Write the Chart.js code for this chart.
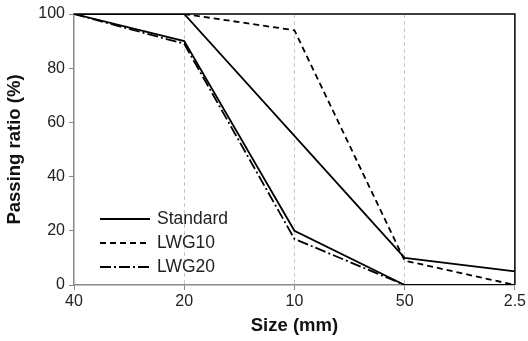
<!DOCTYPE html>
<html lang="en">
<head>
    <meta charset="UTF-8">
    <title>Passing ratio</title>
    <script src="https://cdn.jsdelivr.net/npm/chart.js"></script>
    <style>
        html, body { margin: 0; padding: 0; background: #fff; }
        #wrap { width: 528px; height: 341px; }
    </style>
</head>
<body>
    <div id="wrap"><canvas id="gradeChart" width="528" height="341"></canvas></div>

    <script>
        // Data
        const sizes = ['40', '20', '10', '50', '2.5'];
        const standardUpper = [100, 100, 55, 10, 5];
        const standardLower = [100, 90, 20, 0, 0];
        const lwg10 = [100, 100, 94, 9, 0];
        const lwg20 = [100, 89, 17, 0, 0];
        const yTicks = [0, 20, 40, 60, 80, 100];

        const font = "'Liberation Sans', Arial, sans-serif";

        // Frame on top and right, legend inside the plot
        const framePlugin = {
            id: 'frame',
            afterDraw(chart) {
                const { ctx, chartArea: a } = chart;
                ctx.save();
                ctx.strokeStyle = '#000';
                ctx.lineWidth = 1.5;
                ctx.beginPath();
                ctx.moveTo(a.left, a.top);
                ctx.lineTo(a.right, a.top);
                ctx.lineTo(a.right, a.bottom);
                ctx.stroke();

                // legend
                const items = chart.data.datasets.filter(d => !d.noLegend);
                ctx.font = '17.5px ' + font;
                ctx.textBaseline = 'middle';
                items.forEach((d, i) => {
                    const y = a.top + 205 + i * 24;
                    const x = a.left + 26;
                    ctx.strokeStyle = d.borderColor;
                    ctx.lineWidth = d.borderWidth;
                    ctx.setLineDash(d.borderDash || []);
                    ctx.beginPath();
                    ctx.moveTo(x, y);
                    ctx.lineTo(x + 50, y);
                    ctx.stroke();
                    ctx.setLineDash([]);
                    ctx.fillStyle = '#222';
                    ctx.fillText(d.label, x + 57, y);
                });
                ctx.restore();
            }
        };

        function line(label, data, dash, noLegend) {
            return {
                label: label,
                data: data,
                borderColor: '#000',
                borderWidth: 1.8,
                borderDash: dash,
                pointRadius: 0,
                fill: false,
                tension: 0,
                noLegend: noLegend
            };
        }

        new Chart(document.getElementById('gradeChart'), {
            type: 'line',
            data: {
                labels: sizes,
                datasets: [
                    line('Standard', standardUpper, [], false),
                    line('Standard', standardLower, [], true),
                    line('LWG10', lwg10, [6, 4], false),
                    line('LWG20', lwg20, [11, 3, 2, 3], false)
                ]
            },
            options: {
                responsive: false,
                animation: false,
                layout: { padding: { top: 14, right: 13, left: 0, bottom: 0 } },
                plugins: {
                    legend: { display: false },
                    tooltip: { enabled: false }
                },
                scales: {
                    x: {
                        type: 'category',
                        offset: false,
                        afterFit: s => { s.height = 56; },
                        grid: {
                            color: c => (c.index === 0 || c.index === sizes.length - 1) ? 'rgba(0,0,0,0)' : '#c8c8c8',
                            lineWidth: 1,
                            drawTicks: true,
                            tickLength: 5,
                            tickColor: '#888'
                        },
                        border: { color: '#888', width: 1.5, dash: [4, 3] },
                        ticks: {
                            color: '#222',
                            font: { family: font, size: 16 },
                            padding: 2,
                            maxRotation: 0
                        },
                        title: {
                            display: true,
                            text: 'Size (mm)',
                            color: '#111',
                            font: { family: font, size: 18.5, weight: 'bold' },
                            padding: { top: 2 }
                        }
                    },
                    y: {
                        min: 0,
                        max: 100,
                        afterFit: s => { s.width = 74; },
                        afterBuildTicks: s => { s.ticks = yTicks.map(v => ({ value: v })); },
                        grid: {
                            drawOnChartArea: false,
                            drawTicks: true,
                            tickLength: 5,
                            tickColor: '#888'
                        },
                        border: { color: '#888', width: 1.5 },
                        ticks: {
                            color: '#222',
                            font: { family: font, size: 16 },
                            padding: 4
                        },
                        title: {
                            display: true,
                            text: 'Passing ratio (%)',
                            color: '#111',
                            font: { family: font, size: 18.5, weight: 'bold' },
                            padding: { top: 4, bottom: 0 }
                        }
                    }
                }
            },
            plugins: [framePlugin]
        });
    </script>
</body>
</html>
